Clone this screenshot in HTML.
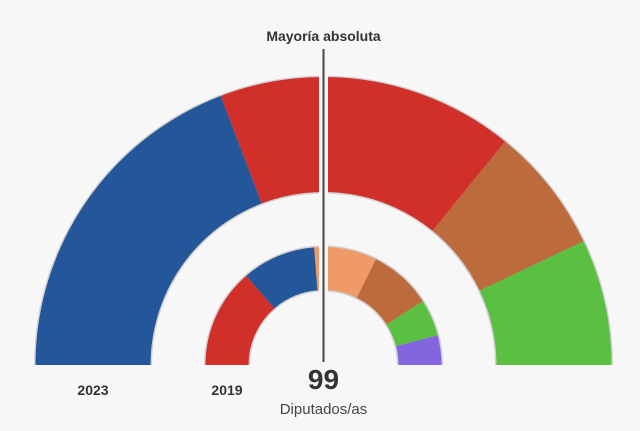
<!DOCTYPE html>
<html><head><meta charset="utf-8"><style>
html,body{margin:0;padding:0;background:#f7f7f7;}
svg{display:block;font-family:"Liberation Sans",sans-serif;}
</style></head><body>
<svg id="c" width="640" height="431" viewBox="0 0 640 431">
<rect width="640" height="431" fill="#f7f7f7"/>
</svg>
<script>
const parties2023 = ["PP","PSOE","Party C","Party D"];
const seats2023 = [38, 33, 14, 14];
const colors2023 = ["#24569a","#d12f2a","#bd6a3c","#5bbf41"];
const parties2019 = ["PSOE","PP","Party E","Party C","Party D","Party F"];
const seats2019 = [27, 20, 17, 17, 10, 8];
const colors2019 = ["#d12f2a","#24569a","#f09a68","#bd6a3c","#5bbf41","#8465e0"];
const totalSeats = 99;
const ringLabels = ["2023","2019"];

const NS = "http://www.w3.org/2000/svg";
const svg = document.getElementById("c");
const cx = 323.5, cy = 365;
function mk(tag, attrs){const e=document.createElementNS(NS,tag);for(const k in attrs)e.setAttribute(k,attrs[k]);svg.appendChild(e);return e;}
function angle(s){return Math.PI - (s/totalSeats)*Math.PI;}
function pt(r,a){return [cx + r*Math.cos(a), cy - r*Math.sin(a)];}
function arcPath(r0,r1,a0,a1){
  const p1=pt(r1,a0),p2=pt(r1,a1),p3=pt(r0,a1),p4=pt(r0,a0);
  return `M${p1[0]},${p1[1]} A${r1},${r1} 0 0 1 ${p2[0]},${p2[1]} L${p3[0]},${p3[1]} A${r0},${r0} 0 0 0 ${p4[0]},${p4[1]} Z`;
}
function ring(seats, colors, names, r0, r1, tag){
  // outline
  const o = mk("path",{d:arcPath(r0-1.5,r1+1.5,Math.PI,0),fill:"#cfcfcf"});
  
  
  let acc=0;
  seats.forEach((s,i)=>{
    const a0=angle(acc), a1=angle(acc+s);
    acc+=s;
    const p = mk("path",{d:arcPath(r0,r1,a0,a1),fill:colors[i]});
    
    
  });
}
ring(seats2023, colors2023, parties2023, 173, 288, "2023");
ring(seats2019, colors2019, parties2019, 75, 118, "2019");
// center gap
const gap = mk("rect",{x:cx-4.5,y:70,width:9,height:297,fill:"#f7f7f7"});


const line = mk("line",{x1:cx,y1:49,x2:cx,y2:362,stroke:"#444",'stroke-width':2});


function txt(x,y,s,size,weight,fill,name){
  const t=mk("text",{x:x,y:y,'font-size':size,'font-weight':weight,fill:fill,'text-anchor':'middle'});
  t.textContent=s;
  
  
}
txt(cx,41,"Mayoría absoluta",14,"bold","#333","majority-label");
txt(93,395,ringLabels[0],14,"bold","#333","label-2023");
txt(227,395,ringLabels[1],14,"bold","#333","label-2019");
txt(cx,389,String(totalSeats),28,"bold","#333","total-seats");
txt(cx,414,"Diputados/as",15,"normal","#444","seats-unit-label");
</script>
</body></html>
